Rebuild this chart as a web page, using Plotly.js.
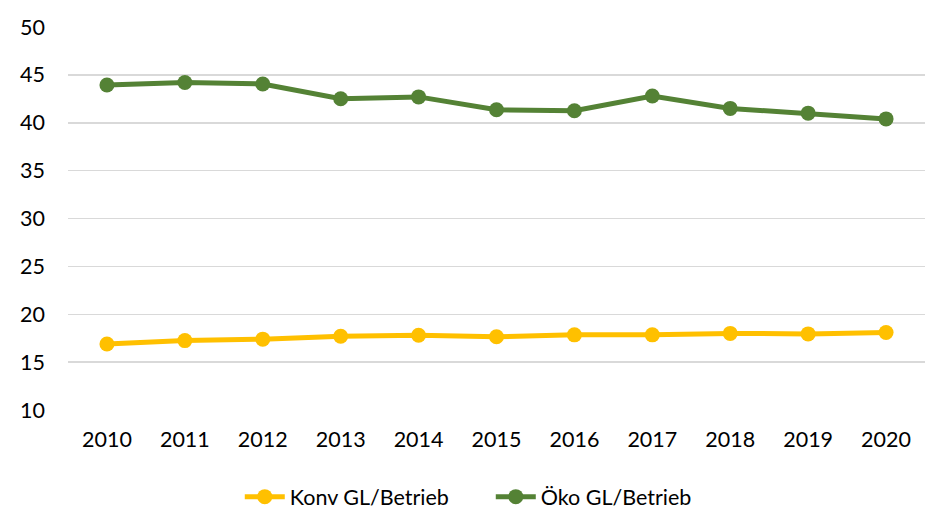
<!DOCTYPE html>
<html>
<head>
<meta charset="utf-8">
<script src="https://cdn.plot.ly/plotly-3.0.1.min.js"></script>
<style>html,body{margin:0;padding:0;background:#fff;}#chart{width:926px;height:511px;}</style>
</head>
<body>
<div id="chart"></div>
<script>
const years = ["2010","2011","2012","2013","2014","2015","2016","2017","2018","2019","2020"];
const konv = [16.9, 17.25, 17.4, 17.7, 17.8, 17.65, 17.85, 17.85, 18.0, 17.95, 18.1];
const oeko = [43.95, 44.2, 44.05, 42.5, 42.7, 41.35, 41.25, 42.8, 41.5, 41.0, 40.4];
const seriesNames = ["Konv GL/Betrieb", "Öko GL/Betrieb"];
const yTicks = [10, 15, 20, 25, 30, 35, 40, 45, 50];

const font = {family: "Lato, 'Open Sans', sans-serif", size: 21.5, color: "#000"};

const traces = [
  {x: years, y: konv, name: seriesNames[0], type: "scatter", mode: "lines+markers",
   line: {color: "#FFC000", width: 5}, marker: {color: "#FFC000", size: 15}},
  {x: years, y: oeko, name: seriesNames[1], type: "scatter", mode: "lines+markers",
   line: {color: "#548235", width: 5}, marker: {color: "#548235", size: 15}}
];

const layout = {
  width: 926, height: 511,
  margin: {l: 68, r: 1, t: 27, b: 101},
  paper_bgcolor: "#fff", plot_bgcolor: "#fff",
  font: font,
  showlegend: true,
  legend: {orientation: "h", x: 0.53, xref: "container", xanchor: "center",
           y: 0.028, yref: "container", yanchor: "middle",
           font: font, itemwidth: 40, entrywidth: 196, entrywidthmode: "pixels"},
  xaxis: {type: "category", range: [-0.5, 10.5], showgrid: false, zeroline: false, showline: false,
          ticks: "", tickfont: font, ticklabelstandoff: 14, automargin: false},
  yaxis: {range: [10, 50], tickvals: yTicks, showgrid: true, gridcolor: "#d9d9d9",
          gridwidth: 1.5, zeroline: false, showline: false, ticks: "", tickfont: font,
          ticklabelstandoff: 22, automargin: false}
};

Plotly.newPlot("chart", traces, layout, {displayModeBar: false, staticPlot: true});
</script>
</body>
</html>
